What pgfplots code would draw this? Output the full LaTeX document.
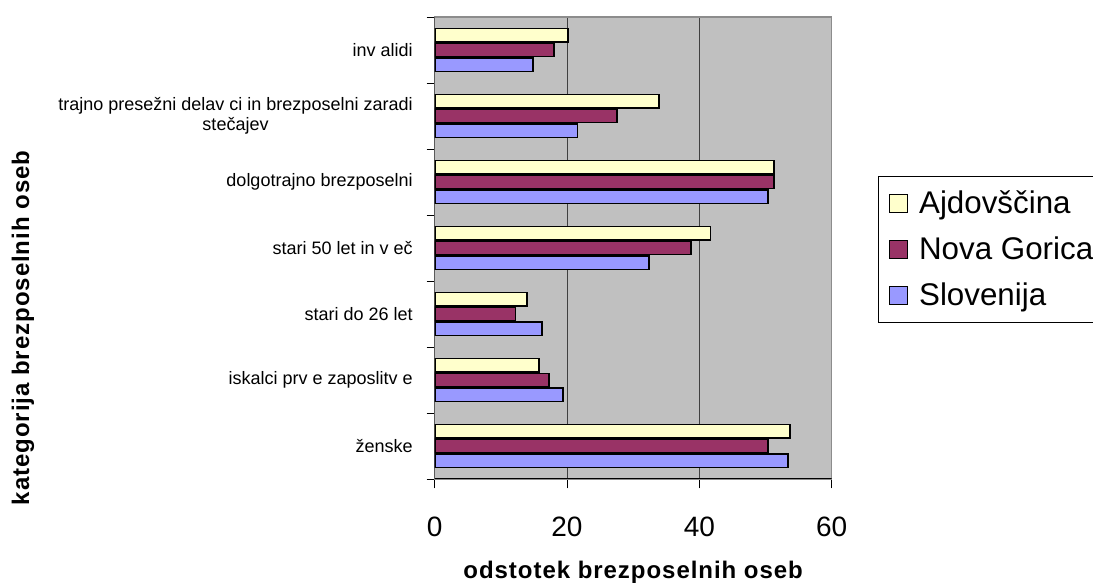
\documentclass[border=0pt]{standalone}
\usepackage{fontspec}
\setmainfont{Liberation Sans}
\newfontfamily\spaced[LetterSpace=4]{Liberation Sans}
\usepackage{pgfplots}
\pgfplotsset{compat=1.18}
\definecolor{cY}{HTML}{FFFFCC}
\definecolor{cP}{HTML}{993366}
\definecolor{cB}{HTML}{9999FF}
\definecolor{cBg}{HTML}{C0C0C0}
\begin{document}
\begin{tikzpicture}
\path[use as bounding box] (-326.0pt,-79.5pt) rectangle (493.75pt,359.25pt);
\begin{axis}[
  at={(0,0)}, anchor=south west,
  scale only axis, width=297.75pt, height=346.5pt,
  xbar, bar width=0.2,
  xmin=0, xmax=60, ymin=-0.5, ymax=6.5,
  xtick={0,20,40,60},
  xticklabels={0,20,40,60},
  ytick={0,1,2,3,4,5,6},
  yticklabels={ženske, iskalci prv e zaposlitv e, stari do 26 let, stari 50 let in v eč, dolgotrajno brezposelni, {trajno presežni delav ci in brezposelni zaradi\\stečajev}, inv alidi},
  minor ytick={-0.5,0.5,...,6.5},
  tick align=outside,
  xtick pos=bottom, ytick pos=left,
  major tick length=7pt, minor tick length=6pt,
  major y tick style={draw=none},
  minor y tick style={black, line width=0.6pt},
  major x tick style={black, line width=0.6pt},
  xmajorgrids, grid style={black!75, line width=0.7pt},
  axis background/.style={fill=cBg},
  axis line style={draw=gray!90, line width=0.8pt},
  /pgf/number format/assume math mode=true,
  xticklabel style={font=\fontsize{21}{24}\selectfont, yshift=-18pt},
  yticklabel style={font=\fontsize{13.5}{15}\selectfont, align=center, xshift=-6pt},
  xlabel={odstotek brezposelnih oseb},
  xlabel style={font=\spaced\fontsize{18}{20}\selectfont\bfseries, at={(axis description cs:0.5,0)}, anchor=center, yshift=-70pt},
  ylabel={kategorija brezposelnih oseb},
  ylabel style={font=\spaced\fontsize{18}{20}\selectfont\bfseries, at={(axis description cs:-1.037,0.327)}, anchor=center, rotate=0},
  legend style={at={(axis description cs:1.117,0.656)}, anchor=north west, draw=black, line width=0.6pt, fill=white,
    font=\fontsize{23.5}{26}\selectfont, row sep=12pt, inner xsep=8pt, inner ysep=9pt},
  legend cell align=left,
  legend image code/.code={\draw[#1, line width=0.9pt] (0pt,-6.75pt) rectangle (13.5pt,6.75pt); \path[draw=none,fill=none] (0pt,0pt) -- (20pt,0pt);},
]
\addplot[fill=cY, draw=black, line width=1.3pt, bar shift=0.225] coordinates {
 (53.7,0) (15.8,1) (14.0,2) (41.7,3) (51.3,4) (33.9,5) (20.1,6)};
\addplot[fill=cP, draw=black, line width=1.3pt, bar shift=0] coordinates {
 (50.4,0) (17.3,1) (12.2,2) (38.7,3) (51.3,4) (27.6,5) (18.0,6)};
\addplot[fill=cB, draw=black, line width=1.3pt, bar shift=-0.225] coordinates {
 (53.4,0) (19.4,1) (16.2,2) (32.4,3) (50.4,4) (21.6,5) (14.9,6)};
\legend{Ajdovščina, Nova Gorica, Slovenija}
\draw[black, line width=0.8pt] (rel axis cs:0,1) -- (rel axis cs:0,0) -- (rel axis cs:1,0);
\end{axis}
\end{tikzpicture}
\end{document}
